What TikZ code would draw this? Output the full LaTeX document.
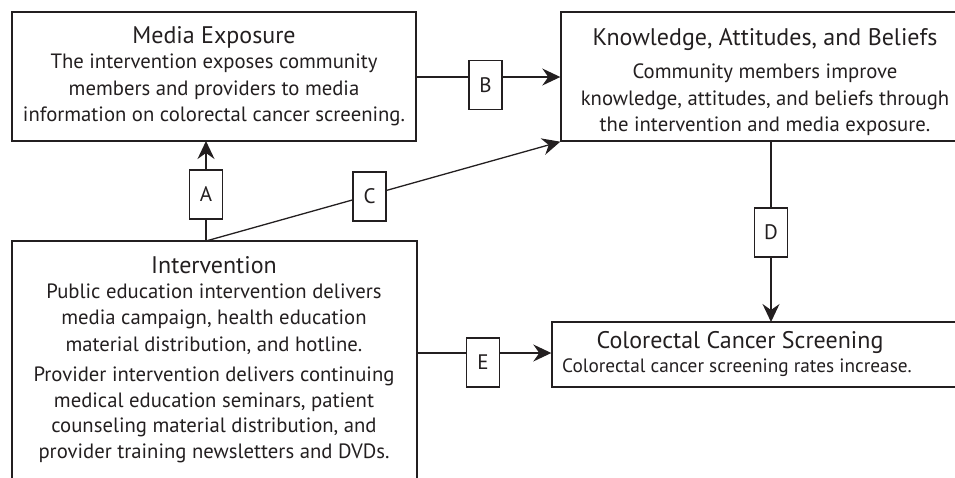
\documentclass[tikz,border=0pt]{standalone}
\usepackage{fontspec}
\setmainfont{PT Sans}
\usetikzlibrary{arrows.meta}
\definecolor{ink}{HTML}{231F20}
\begin{document}
\begin{tikzpicture}[x=1pt,y=-1pt, color=ink,
  box/.style={draw, line width=1.4pt, inner sep=0pt},
  lbl/.style={draw, fill=white, line width=1.3pt, minimum width=33pt, minimum height=49pt, inner sep=0pt, font=\fontsize{21}{21}\selectfont},
  conn/.style={line width=1.3pt, -{Stealth[length=18pt,width=17pt,inset=6pt]}},
  ttl/.style={inner sep=0pt, font=\fontsize{24}{28}\selectfont},
  body/.style={inner sep=0pt, align=center, font=\fontsize{20.7}{26.5}\selectfont},
  bodyb/.style={inner sep=0pt, align=center, font=\fontsize{20.7}{25.5}\selectfont},
  small/.style={inner sep=0pt, align=center, font=\fontsize{19.3}{22}\selectfont}
]
\useasboundingbox (0,0) rectangle (955,477);
\clip (0,0) rectangle (955,477);

% boxes
\node[box, minimum width=404pt, minimum height=129pt] (media) at (214,76.5) {};
\node[box, minimum width=408pt, minimum height=129pt] (kab) at (765,76.5) {};
\node[box, minimum width=405pt, minimum height=249pt] (iv) at (214.5,365.5) {};
\node[box, minimum width=418pt, minimum height=65pt] (ccs) at (761,354.5) {};

% texts
\node[ttl] (mediaT) at (214,37) {Media Exposure};
\node[body] (mediaB) at (214,90) {The intervention exposes community\\members and providers to media\\information on colorectal cancer screening.};

\node[ttl] (kabT) at (765,40) {Knowledge, Attitudes, and Beliefs};
\node[body] (kabB) at (765,100) {Community members improve\\knowledge, attitudes, and beliefs through\\the intervention and media exposure.};

\node[ttl] (ivT) at (214,265) {Intervention};
\node[body] (ivB1) at (214,319) {Public education intervention delivers\\media campaign, health education\\material distribution, and hotline.};
\node[bodyb] (ivB2) at (214,415) {Provider intervention delivers continuing\\medical education seminars, patient\\counseling material distribution, and\\provider training newsletters and DVDs.};

\node[ttl] (ccsT) at (740,342) {Colorectal Cancer Screening};
\node[small] (ccsB) at (737,368) {Colorectal cancer screening rates increase.};

% connector anchors
\coordinate (ivtop) at (206,241);
\coordinate (mediabot) at (206,141);
\coordinate (kabbot) at (771,141);
\coordinate (ccstop) at (771,322);

% A
\draw[conn] (ivtop) -- (mediabot);
\node[lbl] (A) at (206,194.5) {A};
% B
\draw[conn] (media.east |- 0,77) -- (kab.west |- 0,77);
\node[lbl] (B) at (485.5,85) {B};
% C
\draw[conn] (ivtop) -- (kab.south west);
\node[lbl] (C) at (369.5,196.5) {C};
% D
\draw[conn] (kabbot) -- (ccstop);
\node[lbl] (D) at (771,232.5) {D};
% E
\draw[conn] (iv.east |- 0,353) -- (ccs.west |- 0,353);
\node[lbl] (E) at (483,362.5) {E};
\end{tikzpicture}
\end{document}
